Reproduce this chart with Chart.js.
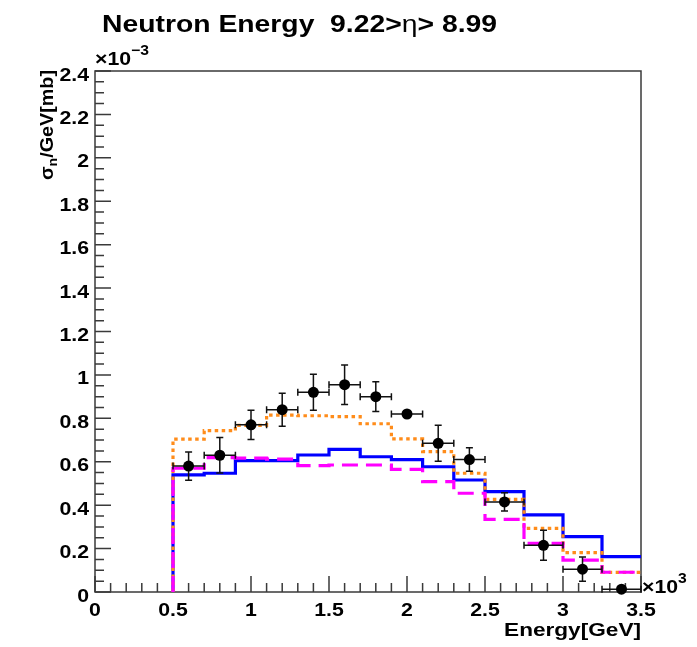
<!DOCTYPE html>
<html>
<head>
<meta charset="utf-8">
<title>Neutron Energy</title>
<script src="https://cdn.jsdelivr.net/npm/chart.js@4.4.1/dist/chart.umd.min.js"></script>
<style>
    html, body { margin: 0; padding: 0; background: #ffffff; }
    #wrap { width: 697px; height: 647px; }
</style>
</head>
<body>
<div id="wrap"><canvas id="chart" width="697" height="647"></canvas></div>
<script>
"use strict";

// energy in units of 10^3 GeV, cross sections in units of 10^-3 mb/GeV
const binEdges = [0.5, 0.7, 0.9, 1.1, 1.3, 1.5, 1.7, 1.9, 2.1, 2.3, 2.5, 2.75, 3.0, 3.25, 3.5];
const measured = [0.58, 0.63, 0.77, 0.84, 0.92, 0.955, 0.90, 0.82, 0.685, 0.61, 0.415, 0.215, 0.105, 0.013];
const measuredErr = [0.065, 0.082, 0.067, 0.076, 0.083, 0.091, 0.069, 0.008, 0.083, 0.054, 0.042, 0.069, 0.056, 0.008];
const modelSolid = [0.54, 0.547, 0.605, 0.605, 0.631, 0.657, 0.623, 0.61, 0.577, 0.516, 0.462, 0.355, 0.255, 0.163];
const modelDotted = [0.704, 0.743, 0.768, 0.815, 0.812, 0.808, 0.775, 0.705, 0.647, 0.547, 0.427, 0.293, 0.181, 0.09];
const modelDashed = [0.57, 0.619, 0.617, 0.612, 0.582, 0.585, 0.585, 0.565, 0.508, 0.455, 0.335, 0.224, 0.147, 0.091];

const xTickLabels = ["0", "0.5", "1", "1.5", "2", "2.5", "3", "3.5"];
const yTickLabels = ["0", "0.2", "0.4", "0.6", "0.8", "1", "1.2", "1.4", "1.6", "1.8", "2", "2.2", "2.4"];

const FONT = "'Liberation Sans', Arial, Helvetica, sans-serif";
const STRETCH = 1.12;

// histogram outline: rise from zero at the first edge, one point per bin, close at the last edge
function histPoints(values) {
    const pts = [{x: binEdges[0], y: 0}];
    values.forEach((v, i) => pts.push({x: binEdges[i], y: v}));
    pts.push({x: binEdges[binEdges.length - 1], y: values[values.length - 1]});
    return pts;
}

function binCenters() {
    return measured.map((v, i) => ({x: (binEdges[i] + binEdges[i + 1]) / 2, y: v}));
}

// draws text pieces one after another, each widened by sx
function drawRuns(ctx, runs, x, y, align, sx) {
    let total = 0;
    runs.forEach(r => {
        ctx.font = r.font;
        r.w = ctx.measureText(r.text).width * sx;
        total += r.w;
    });
    let cx = x;
    if (align === 'right') cx = x - total;
    if (align === 'center') cx = x - total / 2;
    runs.forEach(r => {
        ctx.save();
        ctx.font = r.font;
        ctx.translate(cx, y + (r.dy || 0));
        ctx.scale(sx, 1);
        ctx.fillText(r.text, 0, 0);
        ctx.restore();
        cx += r.w;
    });
    return total;
}

const framePlugin = {
    id: 'rootFrame',
    beforeDatasetsDraw(chart) {
        const ctx = chart.ctx;
        const area = chart.chartArea;
        const xs = chart.scales.x;
        const ys = chart.scales.y;
        ctx.save();
        ctx.strokeStyle = '#3a3a3a';
        ctx.lineWidth = 1.5;
        ctx.strokeRect(area.left, area.top, area.right - area.left, area.bottom - area.top);

        ctx.beginPath();
        for (let i = 0; i <= 35; i++) {
            const px = xs.getPixelForValue(i / 10);
            const len = i % 5 === 0 ? 16 : 9;
            ctx.moveTo(px, area.bottom);
            ctx.lineTo(px, area.bottom - len);
        }
        for (let i = 0; i <= 48; i++) {
            const py = ys.getPixelForValue(i / 20);
            const len = i % 4 === 0 ? 16 : 9;
            ctx.moveTo(area.left, py);
            ctx.lineTo(area.left + len, py);
        }
        ctx.stroke();
        ctx.restore();
    },
    beforeDatasetDraw(chart, args) {
        // error bars go under the markers
        if (args.index !== 0) return;
        const ctx = chart.ctx;
        const xs = chart.scales.x;
        const ys = chart.scales.y;
        const cap = 3.5;
        ctx.save();
        ctx.strokeStyle = '#111111';
        ctx.lineWidth = 1.5;
        ctx.beginPath();
        measured.forEach((v, i) => {
            const x0 = xs.getPixelForValue(binEdges[i]);
            const x1 = xs.getPixelForValue(binEdges[i + 1]);
            const xc = (x0 + x1) / 2;
            const yc = ys.getPixelForValue(v);
            const yTop = ys.getPixelForValue(v + measuredErr[i]);
            const yBot = ys.getPixelForValue(Math.max(0, v - measuredErr[i]));
            ctx.moveTo(x0, yc); ctx.lineTo(x1, yc);
            ctx.moveTo(x0, yc - cap); ctx.lineTo(x0, yc + cap);
            ctx.moveTo(x1, yc - cap); ctx.lineTo(x1, yc + cap);
            ctx.moveTo(xc, yTop); ctx.lineTo(xc, yBot);
            ctx.moveTo(xc - cap, yTop); ctx.lineTo(xc + cap, yTop);
            ctx.moveTo(xc - cap, yBot); ctx.lineTo(xc + cap, yBot);
        });
        ctx.stroke();
        ctx.restore();
    },
    afterDraw(chart) {
        const ctx = chart.ctx;
        const area = chart.chartArea;
        const xs = chart.scales.x;
        const ys = chart.scales.y;
        const bold = size => `bold ${size}px ${FONT}`;
        ctx.save();
        ctx.fillStyle = '#000000';
        ctx.textBaseline = 'alphabetic';
        ctx.textAlign = 'left';

        xTickLabels.forEach(t => {
            drawRuns(ctx, [{text: t, font: bold(19)}], xs.getPixelForValue(parseFloat(t)), 616, 'center', STRETCH);
        });
        yTickLabels.forEach(t => {
            drawRuns(ctx, [{text: t, font: bold(19)}], 89, ys.getPixelForValue(parseFloat(t)) + 9.5, 'right', STRETCH);
        });

        // axis multipliers
        drawRuns(ctx, [
            {text: '\u00d710', font: bold(19)},
            {text: '\u22123', font: bold(14), dy: -10}
        ], area.left, 65, 'left', STRETCH);
        drawRuns(ctx, [
            {text: '\u00d710', font: bold(19)},
            {text: '3', font: bold(14), dy: -10}
        ], area.right + 1, 593, 'left', STRETCH);

        // title
        const titleRuns = [
            {text: 'Neutron Energy  9.22>', font: bold(24.5)},
            {text: '\u03b7', font: `24.5px ${FONT}`},
            {text: '> 8.99', font: bold(24.5)}
        ];
        let natural = 0;
        titleRuns.forEach(r => { ctx.font = r.font; natural += ctx.measureText(r.text).width; });
        drawRuns(ctx, titleRuns, 102, 32, 'left', 395 / natural);

        // axis titles
        drawRuns(ctx, [{text: 'Energy[GeV]', font: bold(19)}], area.right, 636, 'right', 1.19);

        ctx.save();
        ctx.translate(53, 70);
        ctx.rotate(-Math.PI / 2);
        drawRuns(ctx, [
            {text: '\u03c3', font: bold(19)},
            {text: 'n', font: bold(13.5), dy: 4},
            {text: '/GeV[mb]', font: bold(19)}
        ], 0, 0, 'right', 1.04);
        ctx.restore();

        ctx.restore();
    }
};

const histLine = (values, color, dash) => ({
    type: 'line',
    data: histPoints(values),
    borderColor: color,
    borderWidth: 3.2,
    borderDash: dash,
    borderCapStyle: 'butt',
    stepped: 'before',
    pointRadius: 0,
    fill: false,
});

new Chart(document.getElementById('chart').getContext('2d'), {
    data: {
        datasets: [
            {
                type: 'scatter',
                label: 'data',
                data: binCenters(),
                pointRadius: 5.5,
                pointBackgroundColor: '#000000',
                pointBorderColor: '#000000',
                pointBorderWidth: 0,
                clip: false,
            },
            Object.assign(histLine(modelDashed, '#ff00ff', [16, 8]), {label: 'dashed'}),
            Object.assign(histLine(modelDotted, '#ff8c1a', [3.5, 3.5]), {label: 'dotted'}),
            Object.assign(histLine(modelSolid, '#0000ff', []), {label: 'solid'}),
        ]
    },
    options: {
        responsive: false,
        devicePixelRatio: 1,
        animation: false,
        layout: {
            padding: {left: 0, top: 71, right: 56, bottom: 0}
        },
        plugins: {
            legend: {display: false},
            tooltip: {enabled: false},
            title: {display: false},
        },
        scales: {
            x: {
                type: 'linear',
                min: 0,
                max: 3.5,
                ticks: {display: false, stepSize: 0.5},
                grid: {display: false},
                border: {display: false},
                afterFit(scale) { scale.height = 55; },
            },
            y: {
                type: 'linear',
                min: 0,
                max: 2.4,
                ticks: {display: false, stepSize: 0.2},
                grid: {display: false},
                border: {display: false},
                afterFit(scale) { scale.width = 95; },
            }
        }
    },
    plugins: [framePlugin]
});
</script>
</body>
</html>
